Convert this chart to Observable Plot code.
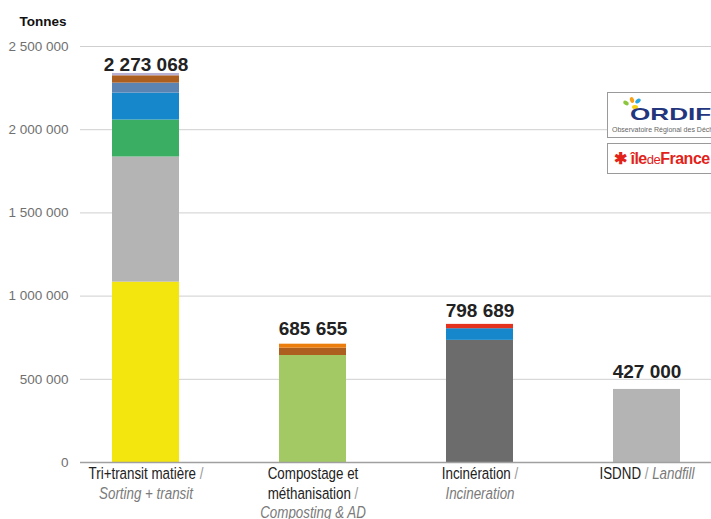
<!DOCTYPE html>
<html><head><meta charset="utf-8">
<script src="https://cdn.jsdelivr.net/npm/d3@7"></script>
<script src="https://cdn.jsdelivr.net/npm/@observablehq/plot@0.6"></script>
<style>
body{margin:0;background:#fff;}
#wrap{position:relative;width:711px;height:519px;overflow:hidden;font-family:"Liberation Sans",Arial,sans-serif;}
#chart svg{display:block;}
.logo{position:absolute;left:607px;width:120px;border:1px solid #9a9a9a;background:#fff;box-sizing:border-box;}
#ordif{top:92px;height:46px;}
#idf{top:143px;height:31px;}
#ordif .name{position:absolute;left:22px;top:13px;font:bold 18px "Liberation Sans",Arial,sans-serif;color:#23357d;transform:scale(1.45,0.95);transform-origin:left top;line-height:1;}
#ordif .tag{position:absolute;left:4px;top:33px;font:7px "Liberation Sans",Arial,sans-serif;color:#666;white-space:nowrap;}
#ordif .leaf{position:absolute;width:6px;height:4px;border-radius:50%;}
#idf .txt{position:absolute;left:6px;top:5px;font:bold 16px "Liberation Sans",Arial,sans-serif;color:#e2231a;white-space:nowrap;letter-spacing:-0.5px;}
#idf .txt small{font-size:13px;font-weight:normal;}
</style></head><body>
<div id="wrap">
<div id="chart"></div>
<div class="logo" id="ordif">
  <span class="leaf" style="left:15px;top:8px;background:#8cc63f;transform:rotate(30deg)"></span>
  <span class="leaf" style="left:21px;top:5px;background:#f7a11a;transform:rotate(70deg)"></span>
  <span class="leaf" style="left:27px;top:6px;background:#29a8e0;transform:rotate(-40deg)"></span>
  <span class="leaf" style="left:24px;top:12px;background:#f5d10f;transform:rotate(0deg)"></span>
  <span class="name">ORDIF</span>
  <span class="tag">Observatoire Régional des Déchets d'Île-de-France</span>
</div>
<div class="logo" id="idf"><span class="txt">✱ île<small>de</small>France</span></div>
</div>
<script>
// ---- data ----
const categories = ["Tri+transit matière", "Compostage et méthanisation", "Incinération", "ISDND"];
const sortingValues = [1084000, 752000, 222000, 162000, 60000, 44000, 14000];
const compostingValues = [643000, 44000, 24000];
const incinerationValues = [734000, 70000, 26000];
const landfillValues = [439000];
const totalLabels = [2273068, 685655, 798689, 427000];
const yTicks = [0, 500000, 1000000, 1500000, 2000000, 2500000];
const labelFr = [["Tri+transit matière"], ["Compostage et", "méthanisation"], ["Incinération"], ["ISDND"]];
const labelEn = ["Sorting + transit", "Composting & AD", "Incineration", "Landfill"];
const enInline = [false, false, false, true];

// ---- palette (styles) ----
const sortingColors = ["#f3e50e", "#b4b4b4", "#3aae62", "#1687cb", "#5b84b3", "#ad5f1f", "#b9b1d3"];
const compostingColors = ["#a3c965", "#ad5f1f", "#ec7e0e"];
const incinerationColors = ["#6c6c6c", "#1687cb", "#e5321f"];
const landfillColors = ["#b4b4b4"];

const seriesValues = [sortingValues, compostingValues, incinerationValues, landfillValues];
const seriesColors = [sortingColors, compostingColors, incinerationColors, landfillColors];
const rows = [];
seriesValues.forEach((vals, i) => vals.forEach((v, j) => rows.push({category: categories[i], value: v, color: seriesColors[i][j]})));
const totals = categories.map((c, i) => ({category: c, value: totalLabels[i]}));

// label lines with styled segments
const lines = [[], [], []];
const segMap = new Map();
categories.forEach((c, i) => {
  const fr = labelFr[i];
  fr.forEach((t, k) => {
    const segs = [{t, kind: "fr"}];
    if (k === fr.length - 1) {
      segs.push({t: enInline[i] ? " / " : " /", kind: "sep"});
      if (enInline[i]) segs.push({t: labelEn[i], kind: "en"});
    }
    const text = segs.map(s => s.t).join("");
    lines[k].push({category: c, text});
    segMap.set(text, segs);
  });
  if (!enInline[i]) {
    const k = fr.length;
    lines[k].push({category: c, text: labelEn[i]});
    segMap.set(labelEn[i], [{t: labelEn[i], kind: "en"}]);
  }
});

const fmt = v => d3.format(",")(v).replace(/,/g, " ");
const lineDy = [16.5, 36, 55.5];

const plot = Plot.plot({
  width: 711,
  height: 519,
  marginTop: 46,
  marginBottom: 57,
  marginLeft: 80,
  marginRight: 0,
  style: {fontFamily: "'Liberation Sans', Arial, sans-serif", background: "#fff", overflow: "hidden"},
  x: {domain: categories, range: [10.5, 781], padding: 0.6, axis: null},
  y: {domain: [0, 2500000], axis: null},
  color: {type: "identity"},
  marks: [
    Plot.ruleY(yTicks.slice(1), {stroke: "#cfcfcf", strokeWidth: 1}),
    Plot.axisY(yTicks, {tickSize: 0, tickPadding: 12, tickFormat: fmt, fontSize: 13.5, fill: "#707070", label: null}),
    Plot.barY(rows, {x: "category", y: "value", fill: "color"}),
    Plot.ruleY([0], {stroke: "#a0a0a0", strokeWidth: 1.5}),
    Plot.text(totals, {x: "category", y: "value", text: d => fmt(d.value), dy: -13, lineAnchor: "bottom", fontSize: 19, fontWeight: "bold", fill: "#222"}),
    Plot.text(["Tonnes"], {frameAnchor: "top-left", dx: -61, dy: -21, lineAnchor: "bottom", textAnchor: "start", fontSize: 13.5, fontWeight: "bold", fill: "#111"}),
    ...lines.map((ld, k) => Plot.text(ld, {x: "category", text: "text", frameAnchor: "bottom", dy: lineDy[k], lineAnchor: "bottom", fontSize: 16.5, fill: "#222"}))
  ]
});

// restyle category label segments (condensed, two-tone)
const ns = "http://www.w3.org/2000/svg";
plot.querySelectorAll("text").forEach(el => {
  const segs = segMap.get(el.textContent);
  if (!segs) return;
  el.textContent = "";
  el.setAttribute("style", "white-space:pre");
  segs.forEach(s => {
    const ts = document.createElementNS(ns, "tspan");
    ts.textContent = s.t;
    if (s.kind === "en") { ts.setAttribute("fill", "#7a7a7a"); ts.setAttribute("font-style", "italic"); }
    else if (s.kind === "sep") { ts.setAttribute("fill", "#9a9a9a"); }
    el.appendChild(ts);
  });
  const tr = el.getAttribute("transform");
  const sx = 0.81;
  if (tr) {
    el.setAttribute("transform", tr + ` scale(${sx},1)`);
  } else {
    const x = +(el.getAttribute("x") || 0);
    el.setAttribute("transform", `translate(${x},0) scale(${sx},1) translate(${-x},0)`);
  }
});

document.getElementById("chart").appendChild(plot);
</script>
</body></html>
